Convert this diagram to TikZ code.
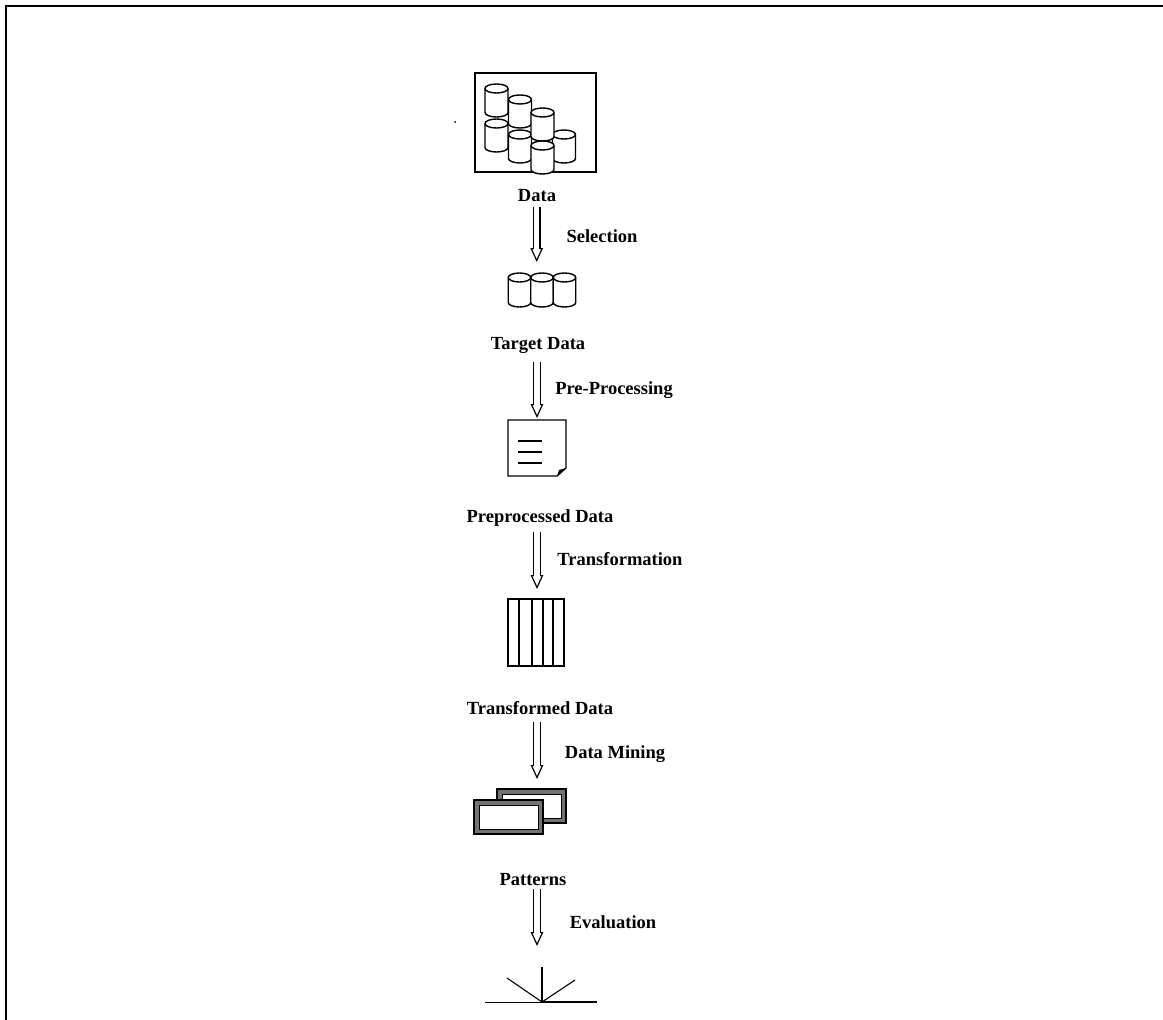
\documentclass[tikz,border=0pt]{standalone}
\usepackage{fontspec}
\setmainfont{Liberation Serif}
\usetikzlibrary{arrows.meta,calc}
\tikzset{
  lab/.style={font=\fontsize{18.5}{20}\selectfont\bfseries, text=black, inner sep=0pt},
  flow/.style={draw=black, line width=1.2pt, double=white, double distance=5.2pt,
               -{Triangle[open, length=14pt, width=12.5pt, line width=1.2pt]}},
  ico/.style={draw=black, line width=1.4pt, fill=white},
  bevel/.style={draw=black, line width=1.4pt, fill=black!55},
}
% one drum, #1 = x of centre, #2 = y of top, #3 = width, #4 = height
\newcommand{\drum}[4]{
  \path[ico] (#1-#3/2,#2+4.5) -- (#1-#3/2,#2+#4-4.5)
    arc[start angle=180, end angle=0, x radius=#3/2, y radius=4.5]
    -- (#1+#3/2,#2+4.5) arc[start angle=0, end angle=-180, x radius=#3/2, y radius=4.5] -- cycle;
  \draw[line width=1.4pt] (#1-#3/2,#2+4.5) arc[start angle=180, end angle=0, x radius=#3/2, y radius=4.5];
}
\begin{document}
\begin{tikzpicture}[x=1pt,y=-1pt]
\useasboundingbox (0,0) rectangle (1163,1020);
% frame, open at the foot and on the right
\draw[line width=1.8pt] (6,1020) -- (6,6) -- (1163,6);
\fill (455,122) circle (1pt);
% data store
\draw[line width=1.3pt] (475,73) rectangle (596,172);
\foreach \x/\y in {496.5/84, 496.5/119, 520/95, 520/130, 564/130, 542.5/108, 542.5/141}
  {\drum{\x}{\y}{23}{33}}
% target data
\foreach \x in {519.5,542,564.5}
  {\drum{\x}{273}{22.5}{34}}
% preprocessed page
\draw[ico] (508,420) -- (566,420) -- (566,468) -- (557,476) -- (508,476) -- cycle;
\fill (557,476) -- (559,470) -- (566,468) -- cycle;
\foreach \y in {441,452,463}
  \draw[line width=1.2pt] (518,\y) -- (542,\y);
% transformed table
\draw[ico] (508,599) rectangle (564,666);
\foreach \x in {519,532,543,553}
  \draw[line width=1.2pt] (\x,599) -- (\x,666);
% pattern frames
\draw[bevel] (497,789) rectangle (566,823);
\draw[ico, line width=1pt] (502,794) rectangle (561,818);
\draw[bevel] (474,800) rectangle (543,834);
\draw[ico, line width=1pt] (479,805) rectangle (538,829);
% knowledge
\draw[line width=1pt] (485,1002) -- (542,1002);
\draw[line width=1.6pt] (542,1002) -- (597,1002);
\draw[line width=1.1pt] (507,978) -- (542,1002) -- (575,980);
\draw[line width=1.1pt] (542,1002) -- (542,967);
\node[lab] (data) at (537,196) {Data};
\node[lab] (selection) at (602,236) {Selection};
\node[lab] (target) at (538,345) {Target Data};
\node[lab] (preproc) at (614,390) {Pre-Processing};
\node[lab] (prep) at (540,518) {Preprocessed Data};
\node[lab] (transf) at (620,559) {Transformation};
\node[lab] (transd) at (540,708) {Transformed Data};
\node[lab] (mining) at (615,754) {Data Mining};
\node[lab] (patterns) at (533,880) {Patterns};
\node[lab] (evaluation) at (613,922) {Evaluation};
\coordinate (a1) at (536.7,207);
\coordinate (b1) at (536.7,262);
\coordinate (a2) at (537,362);
\coordinate (b2) at (537,418);
\coordinate (a3) at (537,532);
\coordinate (b3) at (537,589);
\coordinate (a4) at (537,722);
\coordinate (b4) at (537,779);
\coordinate (a5) at (537,889);
\coordinate (b5) at (537,946);
\foreach \i in {1,...,5}{
  \draw[flow] (a\i) -- (b\i);
  \draw[white, line width=5.2pt] ($(b\i)+(0,-16)$) -- ($(b\i)+(0,-12)$);
}
\end{tikzpicture}
\end{document}
